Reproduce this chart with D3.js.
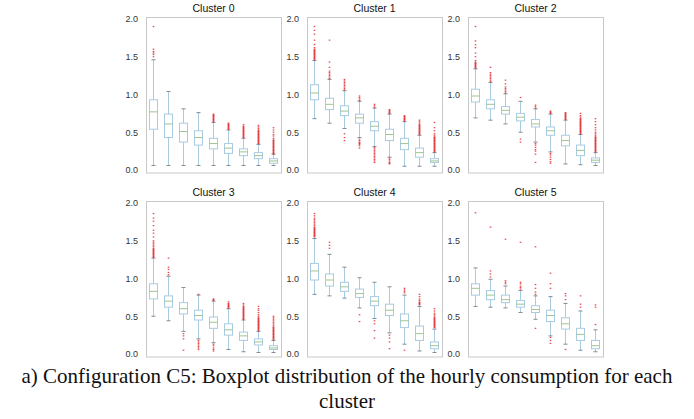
<!DOCTYPE html>
<html>
<head>
<meta charset="utf-8">
<script src="https://cdn.jsdelivr.net/npm/d3@7"></script>
<style>
  body { margin: 0; background: white; }
  svg { display: block; font-family: "Liberation Sans", Arial, Helvetica, sans-serif; }
  .tick text { fill: #333; font-size: 9px; }
  .title { font-size: 10.5px; fill: #111; }
  .caption { font-family: "Liberation Serif", "Times New Roman", serif; font-size: 21px; fill: #111; }
</style>
</head>
<body>
<svg id="chart" width="694" height="419"></svg>
<script>
// hour index on the x axis (no labels shown)
const hours = [1, 2, 3, 4, 5, 6, 7, 8, 9];
const yTicks = [0, 0.5, 1.0, 1.5, 2.0];
const clusterNames = ["Cluster 0", "Cluster 1", "Cluster 2", "Cluster 3", "Cluster 4", "Cluster 5"];

// each row: [whisker low, q1, median, q3, whisker high]
const stats0 = [[0.06,0.54,0.77,0.93,1.46],[0.06,0.43,0.61,0.74,1.04],[0.06,0.37,0.51,0.62,0.81],
  [0.06,0.33,0.43,0.52,0.76],[0.06,0.28,0.35,0.42,0.63],[0.06,0.22,0.29,0.35,0.53],
  [0.06,0.19,0.24,0.28,0.42],[0.06,0.15,0.19,0.23,0.34],[0.06,0.09,0.12,0.15,0.21]];
const stats1 = [[0.68,0.93,1.02,1.13,1.45],[0.62,0.80,0.87,0.95,1.20],[0.55,0.72,0.78,0.85,1.05],
  [0.43,0.62,0.69,0.74,0.91],[0.31,0.52,0.58,0.64,0.82],[0.17,0.39,0.47,0.54,0.74],
  [0.05,0.27,0.35,0.42,0.64],[0.05,0.17,0.23,0.29,0.46],[0.05,0.10,0.12,0.15,0.23]];
const stats2 = [[0.69,0.90,0.98,1.07,1.34],[0.66,0.81,0.87,0.93,1.16],[0.61,0.74,0.79,0.84,1.01],
  [0.50,0.65,0.70,0.75,0.91],[0.37,0.57,0.61,0.67,0.81],[0.24,0.46,0.52,0.57,0.74],
  [0.08,0.32,0.39,0.46,0.66],[0.07,0.19,0.26,0.33,0.47],[0.06,0.10,0.13,0.16,0.23]];
const stats3 = [[0.50,0.73,0.83,0.93,1.27],[0.44,0.62,0.70,0.77,1.03],[0.30,0.53,0.60,0.68,0.88],
  [0.20,0.45,0.51,0.58,0.78],[0.15,0.34,0.42,0.49,0.70],[0.06,0.25,0.32,0.40,0.60],
  [0.03,0.18,0.24,0.29,0.45],[0.02,0.12,0.16,0.20,0.30],[0.02,0.06,0.08,0.11,0.18]];
const stats4 = [[0.79,0.98,1.10,1.20,1.53],[0.77,0.90,0.98,1.06,1.32],[0.74,0.83,0.89,0.95,1.15],
  [0.61,0.75,0.80,0.86,1.01],[0.47,0.64,0.70,0.76,0.95],[0.28,0.51,0.58,0.66,0.89],
  [0.13,0.35,0.44,0.53,0.78],[0.04,0.18,0.27,0.37,0.63],[0.02,0.07,0.11,0.16,0.33]];
const stats5 = [[0.63,0.78,0.87,0.93,1.14],[0.62,0.72,0.78,0.84,0.99],[0.61,0.68,0.72,0.78,0.90],
  [0.55,0.62,0.66,0.71,0.84],[0.46,0.55,0.59,0.64,0.77],[0.24,0.43,0.51,0.58,0.76],
  [0.13,0.33,0.40,0.48,0.67],[0.05,0.18,0.26,0.34,0.57],[0.03,0.07,0.11,0.18,0.32]];

// outliers per box
const fliers0 = [
  [1.50,1.53,1.55,1.57,1.60,1.90], [], [], [],
  [0.64,0.65,0.66,0.67,0.68,0.69,0.70,0.71,0.72,0.73,0.74],
  [0.54,0.55,0.56,0.57,0.58,0.59,0.60,0.61,0.62],
  [0.43,0.44,0.45,0.46,0.47,0.48,0.49,0.50,0.51,0.52,0.53,0.54,0.55,0.56,0.57,0.58,0.60],
  [0.35,0.36,0.37,0.38,0.39,0.40,0.41,0.42,0.43,0.44,0.45,0.46,0.47,0.48,0.49,0.50,0.51,0.52,0.53,0.55,0.57,0.59],
  [0.21,0.22,0.23,0.24,0.25,0.26,0.27,0.28,0.29,0.30,0.31,0.32,0.33,0.34,0.35,0.36,0.37,0.38,0.39,0.40,0.42,0.45,0.47,0.50,0.53,0.56]];
const fliers1 = [
  [1.46,1.47,1.48,1.49,1.50,1.51,1.52,1.53,1.54,1.55,1.56,1.57,1.58,1.59,1.60,1.62,1.66,1.72,1.80,1.85,1.90],
  [1.21,1.23,1.25,1.27,1.29,1.31,1.36,1.43,1.72],
  [1.06,1.08,1.10,1.12,1.14,1.16,1.18,1.20,0.48,0.43,0.39],
  [0.92,0.94,0.96,0.98,0.41,0.39,0.37,0.36,0.35,0.34,0.32,0.29],
  [0.83,0.85,0.87,0.30,0.28,0.26,0.24,0.22,0.20,0.18,0.16,0.14,0.12,0.10],
  [0.75,0.76,0.77,0.78,0.79,0.80,0.16,0.14,0.12,0.10,0.09,0.08],
  [0.65,0.66,0.67,0.68,0.69,0.70,0.71,0.72],
  [0.47,0.48,0.49,0.50,0.51,0.52,0.53,0.54,0.55,0.56,0.57,0.58,0.59,0.60,0.62,0.64,0.66],
  [0.24,0.25,0.26,0.27,0.28,0.29,0.30,0.31,0.32,0.33,0.34,0.35,0.36,0.37,0.38,0.39,0.40,0.41,0.42,0.43,0.44,0.46,0.48,0.52,0.56,0.63]];
const fliers2 = [
  [1.35,1.36,1.37,1.38,1.39,1.40,1.41,1.42,1.43,1.45,1.50,1.55,1.62,1.66,1.71,1.90],
  [1.17,1.19,1.21,1.23,1.25,1.27,1.29,1.36],
  [1.02,1.04,1.06,1.08,1.10,1.14,1.19],
  [0.96,0.41,0.37],
  [0.82,0.84,0.86,0.35,0.33,0.30,0.27,0.25,0.21,0.10],
  [0.75,0.76,0.77,0.78,0.22,0.20,0.17,0.14,0.11,0.09],
  [0.67,0.68,0.69,0.70,0.71,0.72,0.73,0.74,0.75,0.76],
  [0.48,0.49,0.50,0.51,0.52,0.53,0.54,0.55,0.56,0.57,0.58,0.59,0.60,0.61,0.62,0.63,0.64,0.65,0.66,0.67,0.68,0.70,0.72,0.75],
  [0.24,0.25,0.26,0.27,0.28,0.29,0.30,0.31,0.32,0.33,0.34,0.35,0.36,0.37,0.38,0.39,0.40,0.41,0.42,0.43,0.44,0.46,0.48,0.50,0.53,0.56,0.60,0.64,0.68]];
const fliers3 = [
  [1.28,1.29,1.30,1.31,1.32,1.33,1.34,1.35,1.36,1.37,1.38,1.39,1.40,1.42,1.44,1.46,1.48,1.50,1.55,1.60,1.64,1.70,1.76,1.80,1.86],
  [1.05,1.08,1.12,1.15,1.27],
  [0.27,0.24,0.20,0.05],
  [0.79,0.18,0.16,0.14,0.12,0.10,0.08,0.06],
  [0.71,0.72,0.73,0.13,0.11,0.08,0.06,0.04],
  [0.61,0.62,0.63,0.64,0.65,0.66,0.67,0.69],
  [0.46,0.47,0.48,0.49,0.50,0.51,0.52,0.53,0.54,0.55,0.56,0.57,0.58,0.59,0.60,0.61,0.62,0.63,0.65,0.67],
  [0.31,0.32,0.33,0.34,0.35,0.36,0.37,0.38,0.39,0.40,0.41,0.42,0.43,0.44,0.45,0.46,0.47,0.48,0.50,0.52,0.55,0.58,0.60,0.63],
  [0.19,0.20,0.21,0.22,0.23,0.24,0.25,0.26,0.27,0.28,0.29,0.30,0.31,0.32,0.33,0.34,0.35,0.36,0.38,0.40,0.42,0.44,0.46,0.48,0.50]];
const fliers4 = [
  [1.55,1.56,1.57,1.58,1.59,1.60,1.61,1.62,1.63,1.64,1.65,1.66,1.67,1.68,1.70,1.72,1.74,1.76,1.78,1.80,1.83,1.86],
  [1.40,1.44,1.48],
  [],
  [0.52,0.43],
  [0.44,0.40,0.31,0.21],
  [0.25,0.21,0.16,0.07],
  [0.81,0.83,0.85,0.87,0.05],
  [0.65,0.66,0.67,0.68,0.69,0.71,0.73,0.76,0.79],
  [0.35,0.36,0.37,0.38,0.39,0.40,0.41,0.42,0.43,0.44,0.45,0.46,0.47,0.48,0.50,0.52,0.54,0.57,0.60]];
const fliers5 = [
  [1.87],
  [1.02,1.06,1.10,1.68],
  [0.93,0.95,0.97,1.52],
  [0.86,0.88,0.90,0.93,0.95,1.48],
  [0.79,0.82,0.87,0.92,1.42,0.34],
  [0.87,0.93,1.07,0.22,0.18,0.14],
  [0.72,0.77,0.80,0.06],
  [0.62,0.66,0.77],
  [0.39,0.62,0.65]];

const allStats = [stats0, stats1, stats2, stats3, stats4, stats5];
const allFliers = [fliers0, fliers1, fliers2, fliers3, fliers4, fliers5];

const svg = d3.select("#chart");
const panelLefts = [146, 307, 468];
const panelWidth = 135;
const rows = [{top: 19, zero: 170}, {top: 203, zero: 354}];

const boxColor = "#a9cbe0";
const medianColor = "#9fc48f";
const capColor = "#7f8c94";
const flierColor = "#e3262b";

allStats.forEach((stats, ci) => {
  let col = ci % 3, row = Math.floor(ci / 3);
  let left = panelLefts[col];
  let x = d3.scaleLinear().domain([0.5, 9.5]).range([left, left + panelWidth]);
  let y = d3.scaleLinear().domain([0, 2]).range([rows[row].zero, rows[row].top]);
  let g = svg.append("g");

  // frame
  g.append("rect")
    .attr("x", x(0.5) + 0.5).attr("y", y(2.0) - 1.5)
    .attr("width", panelWidth).attr("height", y(0) - y(2.0) + 4.5)
    .attr("fill", "white").attr("stroke", "#c9c9c9").attr("stroke-width", 1);

  let axis = d3.axisLeft(y).tickValues(yTicks).tickSize(0).tickPadding(8).tickFormat(d3.format(".1f"));
  g.append("g").attr("transform", `translate(${x(0.5)},0)`).call(axis)
    .call(a => a.select(".domain").remove());

  g.append("text").attr("class", "title")
    .attr("x", x(5)).attr("y", y(2.0) - 7)
    .attr("text-anchor", "middle").text(clusterNames[ci]);

  let bw = 8;
  let boxes = g.selectAll("g.box").data(stats).enter().append("g").attr("class", "box");
  // whiskers
  boxes.append("line")
    .attr("x1", (d, i) => x(hours[i])).attr("x2", (d, i) => x(hours[i]))
    .attr("y1", d => y(d[0])).attr("y2", d => y(d[1]))
    .attr("stroke", boxColor).attr("stroke-width", 1);
  boxes.append("line")
    .attr("x1", (d, i) => x(hours[i])).attr("x2", (d, i) => x(hours[i]))
    .attr("y1", d => y(d[3])).attr("y2", d => y(d[4]))
    .attr("stroke", boxColor).attr("stroke-width", 1);
  // caps
  [0, 4].forEach(k => {
    boxes.append("line")
      .attr("x1", (d, i) => x(hours[i]) - 2).attr("x2", (d, i) => x(hours[i]) + 2)
      .attr("y1", d => y(d[k])).attr("y2", d => y(d[k]))
      .attr("stroke", capColor).attr("stroke-width", 1);
  });
  // box
  boxes.append("rect")
    .attr("x", (d, i) => x(hours[i]) - bw / 2).attr("width", bw)
    .attr("y", d => y(d[3])).attr("height", d => y(d[1]) - y(d[3]))
    .attr("fill", "white").attr("stroke", boxColor).attr("stroke-width", 1);
  // median
  boxes.append("line")
    .attr("x1", (d, i) => x(hours[i]) - bw / 2).attr("x2", (d, i) => x(hours[i]) + bw / 2)
    .attr("y1", d => y(d[2])).attr("y2", d => y(d[2]))
    .attr("stroke", medianColor).attr("stroke-width", 1);

  // outliers
  allFliers[ci].forEach((vals, i) => {
    g.selectAll(null).data(vals).enter().append("rect")
      .attr("x", x(hours[i]) - 0.8).attr("y", v => y(v) - 0.6)
      .attr("width", 1.6).attr("height", 1.2)
      .attr("fill", flierColor).attr("opacity", 0.85);
  });
});

svg.append("text").attr("class", "caption")
  .attr("x", 347).attr("y", 383).attr("text-anchor", "middle")
  .text("a) Configuration C5: Boxplot distribution of the hourly consumption for each");
svg.append("text").attr("class", "caption")
  .attr("x", 347).attr("y", 408).attr("text-anchor", "middle")
  .text("cluster");
</script>
</body>
</html>
